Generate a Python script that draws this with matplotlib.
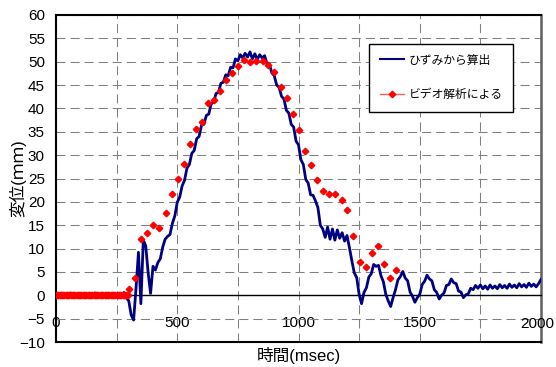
import numpy as np
import matplotlib
matplotlib.use("Agg")
import matplotlib.pyplot as plt
from matplotlib.lines import Line2D
from matplotlib.ticker import MultipleLocator, FuncFormatter

plt.rcParams['font.family'] = ['Liberation Sans', 'Noto Sans CJK JP']

# displacement computed from strain gauges, sampled every 10 msec
strain_t = np.arange(0, 2001, 10)
strain_disp = [
    0.3, -0.2, 0.4, -0.3, 0.1, -0.4, 0.5, -0.2, 0.2, -0.3,        # 0-90
    0.4, -0.1, 0.3, -0.4, 0.2, -0.2, 0.5, -0.3, 0.1, -0.2,        # 100-190
    0.3, -0.4, 0.2, -0.1, 0.4, -0.3, 0.2, -0.2, 0.6, -0.5,        # 200-290
    -1.2, -4.2, -5.3, 1.5, 9.2, -1.8, 11.8, 10.6, 4.8, 0.4,       # 300-390
    6.2, 5.4, 7.0, 7.8, 10.3, 12.0, 12.6, 13.0, 15.4, 17.0,       # 400-490
    19.9, 21.0, 23.4, 24.6, 27.2, 28.0, 30.4, 31.0, 33.5, 34.0,   # 500-590
    36.4, 36.6, 38.5, 38.8, 41.0, 41.3, 43.2, 43.4, 45.4, 45.6,   # 600-690
    47.2, 47.0, 48.8, 48.7, 50.6, 50.2, 51.5, 50.8, 51.8, 51.0,   # 700-790
    52.1, 50.6, 51.7, 50.5, 51.5, 50.8, 51.3, 49.6, 49.5, 47.6,   # 800-890
    47.0, 45.0, 44.5, 42.6, 42.0, 39.6, 39.0, 36.6, 36.0, 33.0,   # 900-990
    32.2, 29.0, 28.0, 24.8, 24.0, 21.5, 21.4, 20.2, 18.8, 15.0,   # 1000-1090
    14.2, 12.4, 14.6, 12.0, 14.2, 11.8, 14.0, 12.2, 13.4, 11.6,   # 1100-1190
    12.8, 10.2, 7.4, 4.8, 3.8, 0.2, -1.8, 0.6, 1.6, 3.9,          # 1200-1290
    4.6, 6.6, 6.2, 6.4, 4.2, 2.9, 0.2, -1.2, -2.4, -0.5,          # 1300-1390
    1.2, 3.3, 4.0, 5.1, 3.7, 3.1, 0.7, -0.2, -1.5, -0.5,          # 1400-1490
    0.2, 2.3, 3.0, 4.3, 3.5, 3.1, 1.2, 0.6, -0.8, 0.0,            # 1500-1590
    0.5, 2.1, 2.3, 3.5, 2.7, 2.5, 0.9, 0.7, -0.5, 0.1,            # 1600-1690
    0.3, 1.5, 1.2, 2.1, 1.5, 2.2, 1.4, 2.0, 1.3, 2.2,             # 1700-1790
    1.5, 2.0, 1.4, 2.3, 1.6, 2.1, 1.5, 2.4, 1.7, 2.2,             # 1800-1890
    1.6, 2.5, 1.8, 2.3, 1.7, 2.6, 1.9, 2.4, 1.8, 2.5,             # 1900-1990
    3.4,                                                          # 2000
]

# displacement measured from the video frames (before impact: all zero)
video_t = [0, 5, 10, 15, 20, 25, 30, 35, 40, 45, 50, 55, 60, 65, 70, 75,
           80, 85, 90, 95, 100, 105, 110, 115, 120, 125, 130, 135, 140, 145,
           150, 155, 160, 165, 170, 175, 180, 185, 190, 195, 200, 205, 210,
           215, 220, 225, 230, 235, 240, 245, 250, 255, 260, 265, 270, 275,
           280, 285, 290, 295,
           302, 326, 350, 377, 402, 426, 453, 477, 502, 527, 551, 576, 602,
           628, 651, 675, 702, 727, 751, 775, 802, 826, 852, 876, 901, 927,
           952, 976, 1003, 1028, 1051, 1076, 1102, 1127, 1152, 1178, 1202,
           1226, 1253, 1278, 1302, 1328, 1352, 1376, 1404]
video_disp = [0, 0, 0, 0, 0, 0, 0, 0, 0, 0, 0, 0, 0, 0, 0, 0,
              0, 0, 0, 0, 0, 0, 0, 0, 0, 0, 0, 0, 0, 0,
              0, 0, 0, 0, 0, 0, 0, 0, 0, 0, 0, 0, 0,
              0, 0, 0, 0, 0, 0, 0, 0, 0, 0, 0, 0, 0,
              0, 0, 0, 0,
              1.4, 3.7, 12.0, 13.3, 15.1, 14.3, 17.6, 21.6, 25.0, 28.2, 32.4,
              35.5, 37.1, 41.1, 41.9, 43.7, 46.1, 47.5, 49.0, 50.3, 50.0,
              50.2, 50.2, 49.4, 47.8, 44.5, 42.3, 38.8, 35.4, 30.9, 27.8,
              24.6, 22.4, 21.7, 21.7, 20.5, 18.3, 12.6, 7.1, 6.0, 9.0, 10.5,
              6.6, 3.7, 5.4]

X_MAX = 2000

fig = plt.figure(figsize=(5.56, 3.67), dpi=100)
ax = fig.add_axes([56 / 556, 1 - 342 / 367, 485 / 556, 327 / 367])

ax.plot(strain_t, strain_disp, color='#000080', lw=2.0, zorder=3)
ax.plot(video_t, video_disp, ls='none', marker='D', ms=3.3,
        color='#ff0000', mec='#ff0000', zorder=4)

ax.set_xlim(0, X_MAX)
ax.set_ylim(-10, 60)
ax.xaxis.set_major_locator(MultipleLocator(500))
ax.xaxis.set_minor_locator(MultipleLocator(250))
ax.yaxis.set_major_locator(MultipleLocator(5))
# the label at the right end is drawn separately so it stays inside the figure
ax.xaxis.set_major_formatter(FuncFormatter(lambda v, p: '' if v >= X_MAX else f'{v:.0f}'))

dash = (0, (8.7, 4.8))
ax.grid(True, which='both', axis='x', color='#808080', lw=0.75, ls=dash, zorder=1)
ax.grid(True, which='major', axis='y', color='#808080', lw=0.75, ls=dash, zorder=1)

# x axis crosses at zero, the plot frame stays at -10
ax.spines['bottom'].set_position(('data', 0))
ax.spines['bottom'].set_linewidth(1.0)
ax.spines['left'].set_linewidth(1.5)
ax.spines['top'].set_linewidth(1.5)
ax.spines['right'].set_color('#606060')
ax.spines['right'].set_linewidth(1.8)
ax.axhline(-10, color='black', lw=1.5, clip_on=False, zorder=5)

ax.tick_params(axis='both', which='both', length=0, labelsize=11)
ax.tick_params(axis='y', pad=8)
ax.tick_params(axis='x', pad=15)

ax.annotate(f'{X_MAX}', xy=(X_MAX, 0), xytext=(-3, -15.5),
            textcoords='offset points', ha='center', va='top', fontsize=11,
            annotation_clip=False)

ax.set_xlabel('時間(msec)', fontsize=12)
ax.set_ylabel('変位(ｍｍ)', fontsize=12)
ax.xaxis.set_label_coords(0.5, -0.015)
ax.yaxis.set_label_coords(-0.062, 0.5)

handles = [
    Line2D([], [], color='#000080', lw=1.5),
    Line2D([], [], color='#ff6060', lw=1.0, marker='D', ms=3.3,
           mfc='#ff0000', mec='#ff0000'),
]
leg = ax.legend(handles, ['ひずみから算出', 'ビデオ解析による'],
                loc='upper left', bbox_to_anchor=(369 / 556, 1 - 44 / 367),
                bbox_transform=fig.transFigure, fontsize=8.5, frameon=True,
                fancybox=False, shadow=False, framealpha=1, edgecolor='black',
                borderpad=0.9, labelspacing=1.9, handlelength=2.1,
                handletextpad=0.35, borderaxespad=0)
leg.get_frame().set_linewidth(1.0)
leg.set_zorder(6)

fig.savefig('out.png', dpi=100)
